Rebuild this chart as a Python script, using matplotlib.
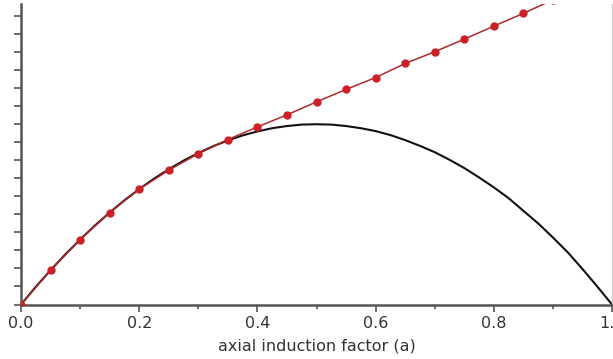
import matplotlib
matplotlib.use("Agg")
import matplotlib.pyplot as plt
from matplotlib.ticker import MultipleLocator, NullFormatter

# axial induction factor for the black curve, step 0.025
a_fine = [0.0, 0.025, 0.05, 0.075, 0.10, 0.125, 0.15, 0.175, 0.20, 0.225, 0.25,
          0.275, 0.30, 0.325, 0.35, 0.375, 0.40, 0.425, 0.45, 0.475, 0.50,
          0.525, 0.55, 0.575, 0.60, 0.625, 0.65, 0.675, 0.70, 0.725, 0.75,
          0.775, 0.80, 0.825, 0.85, 0.875, 0.90, 0.925, 0.95, 0.975, 1.00]

# momentum theory thrust coefficient (black curve)
ct_momentum = [0.0, 0.098, 0.19, 0.278, 0.36, 0.438, 0.51, 0.578, 0.64, 0.698, 0.75,
               0.798, 0.84, 0.878, 0.91, 0.938, 0.96, 0.978, 0.99, 0.998, 1.0,
               0.998, 0.99, 0.978, 0.962, 0.94, 0.912, 0.88, 0.845, 0.803, 0.757,
               0.705, 0.65, 0.59, 0.52, 0.45, 0.372, 0.29, 0.197, 0.1, 0.0]

# axial induction factor for the red markers, step 0.05
a = [0.0, 0.05, 0.10, 0.15, 0.20, 0.25, 0.30, 0.35, 0.40, 0.45, 0.50,
     0.55, 0.60, 0.65, 0.70, 0.75, 0.80, 0.85, 0.90, 0.95, 1.00]

# corrected (empirical) thrust coefficient (red dotted curve)
ct_corrected = [0.0, 0.19, 0.36, 0.51, 0.64, 0.745, 0.837, 0.915, 0.985, 1.052, 1.124,
                1.193, 1.259, 1.337, 1.402, 1.472, 1.544, 1.615, 1.69, 1.765, 1.84]

fig = plt.figure(figsize=(6.13, 3.59), dpi=100)
ax = fig.add_axes([21 / 613, (359 - 304.5) / 359, 591 / 613, 300.5 / 359])

ax.plot(a_fine, ct_momentum, color="#111111", lw=1.5, zorder=2)
ax.plot(a, ct_corrected, color="#b0282c", lw=1.1, marker="o", ms=5,
        mfc="#cc1f26", mec="#cc1f26", zorder=3)

ax.set_xlim(0, 1)
ax.set_ylim(0, 1.667)

ax.xaxis.set_minor_locator(MultipleLocator(0.1))
ax.yaxis.set_major_locator(MultipleLocator(0.1))
ax.yaxis.set_major_formatter(NullFormatter())
ax.set_xticks([0, 0.2, 0.4, 0.6, 0.8, 1.0])
ax.set_xticklabels(["0.0", "0.2", "0.4", "0.6", "0.8", "1.0"])

ax.tick_params(axis="x", which="major", length=5, width=1.2, color="#555555",
               labelsize=11.5, labelcolor="#333333", pad=3)
ax.tick_params(axis="x", which="minor", length=3, width=1.2, color="#555555")
ax.tick_params(axis="y", length=5, width=1.2, color="#555555")

for side in ["left", "bottom"]:
    ax.spines[side].set_color("#555555")
    ax.spines[side].set_linewidth(1.8)
ax.spines["top"].set_visible(False)
ax.spines["right"].set_color("#cccccc")
ax.spines["right"].set_linewidth(1.0)

ax.set_xlabel("axial induction factor (a)", fontsize=11.5, color="#333333", labelpad=6)

fig.savefig("out.png", dpi=100)
